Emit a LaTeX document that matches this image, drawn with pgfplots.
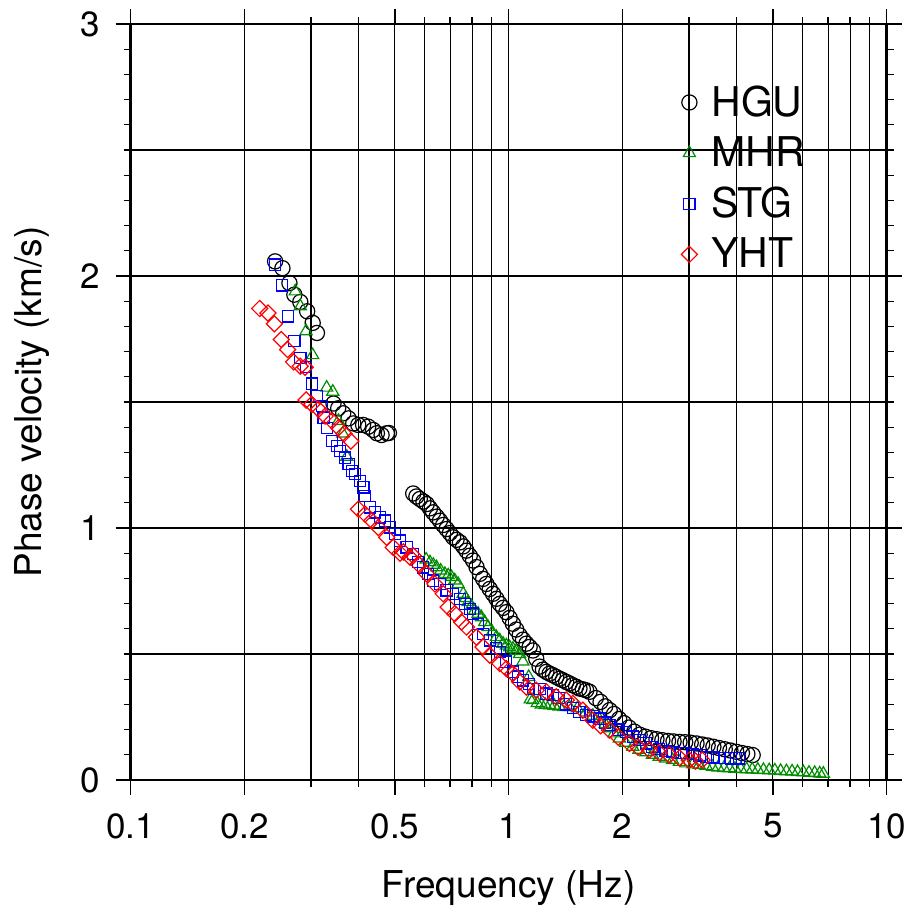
\documentclass[border=0pt]{standalone}
\usepackage{fontspec}
\setmainfont{TeX Gyre Heros}
\usepackage{pgfplots}
\pgfplotsset{compat=1.18}
\definecolor{mhrgreen}{RGB}{0,140,0}

\begin{document}
\begin{tikzpicture}
\useasboundingbox (-65.35pt,-69pt) rectangle (390.65pt,390pt);
\begin{axis}[
    at={(0,0)}, anchor=south west,
    scale only axis, width=378pt, height=378pt,
    xmode=log, xmin=0.1, xmax=10, ymin=0, ymax=3,
    log basis x=10,
    xtick={0.1,0.2,0.5,1,2,5,10},
    xticklabels={0.1,0.2,0.5,1,2,5,10},
    minor xtick={0.3,0.4,0.6,0.7,0.8,0.9,3,4,6,7,8,9},
    ytick={0,1,2,3}, yticklabels={0,1,2,3},
    minor ytick={0.1,0.2,...,2.95},
    extra y ticks={0.5,1.5,2.5}, extra y tick labels={},
    extra y tick style={grid=major, major tick length=3.5pt},
    xmajorgrids, xminorgrids, ymajorgrids,
    grid style={line width=0.55pt, black},
    tick align=outside, tick pos=both,
    xticklabel pos=lower, yticklabel pos=left,
    major tick length=7.5pt, minor tick length=3.5pt,
    every tick/.style={line width=0.65pt, black},
    axis line style={line width=1.35pt},
    tick label style={font=\fontsize{17.5}{17.5}\selectfont},
    xticklabel style={inner sep=0pt, anchor=north, yshift=-9pt},
    yticklabel style={inner sep=0pt, anchor=east, xshift=-7.5pt},
    xlabel={Frequency (Hz)}, ylabel={Phase velocity (km/s)},
    label style={font=\fontsize{18.5}{18.5}\selectfont, inner sep=0pt},
    xlabel style={at={(axis description cs:0.5,-0.156)}, anchor=base},
    ylabel style={at={(axis description cs:-0.1177,0.5)}, anchor=base, rotate=0},
    legend style={draw=none, fill=none, at={(axis description cs:0.72,0.919)},
        anchor=north west, font=\fontsize{20.5}{20.5}\selectfont,
        row sep=8.7pt, inner sep=0pt, nodes={inner sep=0pt}},
    legend cell align=left,
    legend image code/.code={\path[draw=none, fill=none] (-7pt,-6pt) rectangle (11pt,6pt);
        \draw[#1] plot coordinates {(0pt,0pt)};},
]
\addplot[only marks, mark=o, mark size=3.8pt, black, line width=0.6pt] coordinates {
(0.241,2.058)(0.252,2.031)(0.263,1.972)(0.271,1.926)(0.281,1.897)(0.293,1.860)(0.303,1.814)(0.311,1.774)
(0.344,1.494)(0.354,1.475)(0.365,1.455)(0.377,1.435)(0.388,1.415)(0.400,1.409)(0.412,1.409)(0.425,1.402)(0.438,1.389)(0.448,1.376)(0.461,1.369)(0.476,1.376)(0.482,1.377)
(0.559,1.137)(0.570,1.125)(0.582,1.115)(0.595,1.105)(0.607,1.095)(0.619,1.078)(0.631,1.062)(0.645,1.045)(0.658,1.029)(0.671,1.012)(0.685,0.996)(0.699,0.980)(0.713,0.963)(0.728,0.953)(0.743,0.943)(0.758,0.927)(0.773,0.910)(0.789,0.890)(0.805,0.871)(0.822,0.845)(0.839,0.818)(0.856,0.798)(0.873,0.778)(0.891,0.758)(0.909,0.739)(0.928,0.719)(0.947,0.699)(0.966,0.683)(0.986,0.666)(1.006,0.643)(1.026,0.620)(1.047,0.597)(1.069,0.574)(1.091,0.557)(1.114,0.541)(1.136,0.528)(1.159,0.514)(1.183,0.481)(1.207,0.450)(1.232,0.438)(1.258,0.429)(1.283,0.422)(1.309,0.416)(1.336,0.409)(1.363,0.402)(1.391,0.396)(1.420,0.389)(1.449,0.383)(1.478,0.376)(1.508,0.370)(1.539,0.363)(1.571,0.360)(1.603,0.356)(1.636,0.350)
(1.70,0.325)(1.75,0.310)(1.80,0.292)(1.85,0.277)(1.90,0.262)(1.96,0.242)(2.02,0.225)(2.08,0.208)(2.15,0.192)(2.22,0.180)(2.30,0.172)(2.38,0.166)(2.46,0.162)(2.55,0.158)(2.64,0.155)(2.73,0.153)(2.83,0.151)(2.93,0.150)(3.03,0.148)(3.14,0.145)(3.25,0.141)(3.36,0.137)(3.48,0.132)(3.60,0.127)(3.73,0.122)(3.86,0.117)(4.00,0.112)(4.14,0.107)(4.28,0.103)(4.42,0.099)
};
\addlegendentry{HGU}
\addplot[only marks, mark=triangle, mark size=3.5pt, mhrgreen, line width=0.6pt] coordinates {
(0.2725,1.939)(0.281,1.880)(0.291,1.781)(0.303,1.686)(0.330,1.557)(0.3425,1.541)(0.3546,1.425)(0.364,1.375)(0.373,1.283)
(0.605,0.875)(0.619,0.864)(0.632,0.854)(0.6445,0.844)(0.661,0.831)(0.678,0.818)(0.692,0.812)(0.706,0.805)(0.720,0.792)(0.735,0.778)(0.758,0.739)(0.770,0.722)(0.781,0.706)(0.797,0.690)(0.813,0.673)(0.830,0.660)(0.847,0.646)(0.864,0.627)(0.882,0.607)(0.905,0.587)(0.928,0.567)(0.947,0.554)(0.966,0.541)(0.986,0.534)(1.006,0.527)(1.026,0.521)(1.047,0.512)(1.069,0.500)(1.090,0.470)(1.130,0.409)
(1.140,0.320)(1.159,0.317)(1.19,0.305)(1.22,0.300)(1.25,0.298)(1.283,0.297)(1.32,0.295)(1.36,0.292)(1.40,0.290)(1.448,0.290)(1.52,0.285)(1.60,0.268)(1.67,0.255)(1.739,0.240)(1.80,0.222)(1.848,0.205)(1.90,0.185)(1.963,0.165)(2.04,0.148)(2.129,0.132)(2.21,0.120)(2.309,0.110)(2.40,0.100)(2.502,0.092)(2.60,0.085)(2.714,0.079)(2.83,0.072)(2.944,0.066)(3.07,0.062)(3.19,0.059)(3.33,0.056)
(3.46,0.052)(3.58,0.050)(3.71,0.048)(3.84,0.047)(3.97,0.045)(4.11,0.044)(4.26,0.043)(4.41,0.042)(4.56,0.041)(4.72,0.040)(4.89,0.039)(5.06,0.038)(5.24,0.036)(5.43,0.035)(5.62,0.034)(5.81,0.032)(6.02,0.031)(6.23,0.029)(6.45,0.028)(6.65,0.026)(6.80,0.025)
};
\addlegendentry{MHR}
\addplot[only marks, mark=square, mark size=2.8pt, blue, line width=0.6pt] coordinates {
(0.241,2.045)(0.251,1.963)(0.261,1.840)(0.271,1.741)(0.281,1.675)(0.291,1.638)(0.3015,1.573)(0.311,1.524)(0.3205,1.484)(0.3238,1.438)(0.3303,1.398)(0.3405,1.345)(0.351,1.326)(0.358,1.306)(0.369,1.279)(0.377,1.253)(0.385,1.227)(0.3925,1.214)(0.4046,1.187)(0.4127,1.161)(0.417,1.128)(0.4297,1.082)(0.4431,1.062)(0.4566,1.042)(0.4707,1.029)(0.4853,1.002)(0.5003,0.976)(0.5158,0.950)(0.5371,0.923)(0.5591,0.897)(0.5764,0.864)(0.5941,0.844)(0.6125,0.818)(0.6314,0.791)(0.6575,0.778)(0.6848,0.752)(0.713,0.739)(0.7425,0.719)(0.7655,0.699)(0.789,0.679)(0.8051,0.660)(0.83,0.620)(0.855,0.580)(0.891,0.554)(0.925,0.525)(0.947,0.508)(0.985,0.470)(1.026,0.430)(1.06,0.410)(1.091,0.395)(1.13,0.380)(1.159,0.360)(1.207,0.360)(1.258,0.343)(1.309,0.338)(1.36,0.325)(1.420,0.300)(1.48,0.285)(1.539,0.270)(1.60,0.258)(1.669,0.252)(1.739,0.244)(1.80,0.228)(1.848,0.218)(1.95,0.200)(2.044,0.190)(2.13,0.172)(2.22,0.158)(2.31,0.145)(2.40,0.132)(2.50,0.122)(2.60,0.115)(2.714,0.112)(2.85,0.108)(2.95,0.106)(3.07,0.104)(3.2,0.098)(3.33,0.092)(3.47,0.090)(3.60,0.088)(3.73,0.087)(3.87,0.086)(4.00,0.086)(4.07,0.086)
};
\addlegendentry{STG}
\addplot[only marks, mark=square, mark size=2.85pt, mark options={rotate=45}, red, line width=0.6pt] coordinates {
(0.2194,1.871)(0.2307,1.853)(0.2399,1.810)(0.2502,1.748)(0.2601,1.708)(0.2698,1.659)(0.2809,1.642)(0.2894,1.638)
(0.2912,1.508)(0.3015,1.491)(0.3141,1.471)(0.327,1.444)(0.3405,1.425)(0.3546,1.398)(0.3669,1.374)(0.3822,1.345)
(0.4004,1.075)(0.417,1.055)(0.4341,1.029)(0.452,1.002)(0.4756,0.963)(0.4951,0.923)(0.5158,0.900)(0.5263,0.905)(0.5482,0.884)(0.5591,0.890)(0.5764,0.857)(0.6066,0.818)(0.6379,0.778)(0.6711,0.739)(0.6917,0.686)(0.7203,0.660)(0.7502,0.627)(0.7734,0.607)(0.8218,0.567)(0.8554,0.528)(0.891,0.495)(0.947,0.462)(0.9861,0.442)(1.026,0.422)(1.069,0.389)(1.114,0.369)(1.183,0.356)(1.258,0.350)(1.336,0.330)(1.42,0.317)(1.478,0.304)(1.571,0.277)(1.669,0.237)(1.75,0.215)(1.848,0.198)(1.95,0.170)(2.086,0.145)(2.2,0.130)(2.355,0.119)(2.5,0.108)(2.66,0.099)(2.83,0.088)(3.004,0.079)(3.12,0.075)(3.25,0.079)
};
\addlegendentry{YHT}
\end{axis}
\end{tikzpicture}
\end{document}
